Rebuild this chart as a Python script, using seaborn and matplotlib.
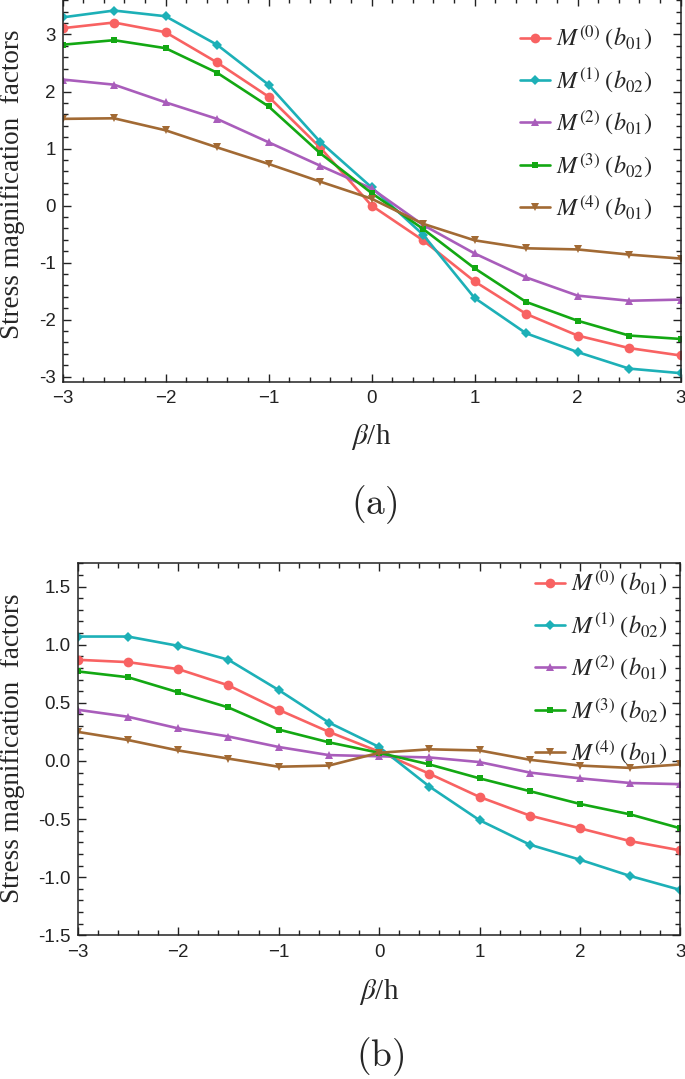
import numpy as np
import pandas as pd
import matplotlib
matplotlib.use("Agg")
import matplotlib.pyplot as plt
import seaborn as sns
from matplotlib.ticker import MultipleLocator, FormatStrFormatter

# ---------------- data ----------------
beta = [-3.0, -2.5, -2.0, -1.5, -1.0, -0.5, 0.0, 0.5, 1.0, 1.5, 2.0, 2.5, 3.0]

# panel (a)
a_M0 = [3.11, 3.21, 3.04, 2.51, 1.91, 1.02, 0.00, -0.61, -1.33, -1.90, -2.28, -2.50, -2.63]
a_M1 = [3.30, 3.42, 3.32, 2.82, 2.12, 1.12, 0.32, -0.51, -1.62, -2.24, -2.57, -2.86, -2.94]
a_M2 = [2.21, 2.12, 1.81, 1.52, 1.11, 0.70, 0.30, -0.34, -0.84, -1.26, -1.58, -1.67, -1.65]
a_M3 = [2.82, 2.90, 2.76, 2.33, 1.74, 0.92, 0.22, -0.41, -1.10, -1.69, -2.02, -2.28, -2.34]
a_M4 = [1.52, 1.53, 1.32, 1.02, 0.73, 0.42, 0.12, -0.32, -0.61, -0.75, -0.77, -0.86, -0.93]

# panel (b)
b_M0 = [0.87, 0.85, 0.79, 0.65, 0.44, 0.25, 0.08, -0.11, -0.31, -0.47, -0.58, -0.69, -0.77]
b_M1 = [1.07, 1.07, 0.99, 0.87, 0.61, 0.33, 0.12, -0.22, -0.51, -0.72, -0.85, -0.99, -1.11]
b_M2 = [0.44, 0.38, 0.28, 0.21, 0.12, 0.05, 0.04, 0.03, -0.01, -0.10, -0.15, -0.19, -0.20]
b_M3 = [0.77, 0.72, 0.59, 0.46, 0.27, 0.16, 0.07, -0.03, -0.15, -0.26, -0.37, -0.46, -0.58]
b_M4 = [0.25, 0.18, 0.09, 0.02, -0.05, -0.04, 0.07, 0.10, 0.09, 0.01, -0.04, -0.06, -0.03]

labels = [r"$M^{(0)}\;(b_{01})$", r"$M^{(1)}\;(b_{02})$", r"$M^{(2)}\;(b_{01})$",
          r"$M^{(3)}\;(b_{02})$", r"$M^{(4)}\;(b_{01})$"]
colors = ["#F86262", "#1DB0B7", "#A95DBB", "#13A813", "#A26A34"]
markers = ["o", "D", "^", "s", "v"]
msizes = [7.0, 4.6, 6.0, 4.6, 6.0]

# ---------------- style ----------------
sns.set_style("ticks")
plt.rcParams["font.family"] = ["Liberation Sans", "DejaVu Sans"]
plt.rcParams["mathtext.fontset"] = "stix"
plt.rcParams["axes.linewidth"] = 1.1
plt.rcParams["axes.edgecolor"] = "#222222"

W, H = 685, 1079
fig = plt.figure(figsize=(W / 100, H / 100), dpi=100)


def px_axes(left, right, top, bottom):
    return fig.add_axes([left / W, 1 - bottom / H, (right - left) / W, (bottom - top) / H])


def draw(ax, series, ylim, ymaj, ymin, yfmt, leg_anchor):
    for vals, lab, c, m, ms in zip(series, labels, colors, markers, msizes):
        df = pd.DataFrame({"beta": beta, "val": vals})
        sns.lineplot(data=df, x="beta", y="val", ax=ax, color=c, marker=m,
                     markersize=ms, markeredgewidth=0, linewidth=1.9, label=lab)
    ax.set_xlim(-3, 3)
    ax.set_ylim(*ylim)
    ax.xaxis.set_major_locator(MultipleLocator(1))
    ax.xaxis.set_minor_locator(MultipleLocator(0.2))
    ax.yaxis.set_major_locator(MultipleLocator(ymaj))
    ax.yaxis.set_minor_locator(MultipleLocator(ymin))
    ax.yaxis.set_major_formatter(FormatStrFormatter(yfmt))
    ax.tick_params(which="both", direction="in", top=True, right=True,
                   labelsize=13.5, colors="#222222", width=1.0)
    ax.tick_params(which="major", length=6, pad=5)
    ax.tick_params(axis="x", which="major", pad=6)
    ax.tick_params(which="minor", length=3.5)
    ax.set_xlabel("")
    ax.set_ylabel("")
    ax.legend(loc="upper left", bbox_to_anchor=leg_anchor, frameon=False,
              fontsize=17.5, handlelength=1.25, handletextpad=0.25,
              labelspacing=0.58, borderpad=0, borderaxespad=0)


ax1 = px_axes(62.5, 680.5, -2, 381.7)
draw(ax1, [a_M0, a_M1, a_M2, a_M3, a_M4], (-3.09, 3.64), 1, 0.2, "%d",
     ((520 - 62.5) / 618, 1 - (24 + 2) / 383.7))

ax2 = px_axes(77.7, 680.5, 563.3, 935.3)
draw(ax2, [b_M0, b_M1, b_M2, b_M3, b_M4], (-1.5, 1.70), 0.5, 0.1, "%.1f",
     ((535 - 77.7) / 602.8, 1 - (569 - 563.3) / 372.0))

serif = ["Liberation Serif", "DejaVu Serif"]
for yc, xc, ylc in [(437, 371.5, 184), (992, 379, 748)]:
    fig.text(xc / W, 1 - yc / H, r"$\beta$/h", family=serif, fontsize=21,
             ha="center", va="center")
    fig.text(12.5 / W, 1 - ylc / H, "Stress magnification  factors", family=serif,
             fontsize=19.5, rotation=90, ha="center", va="center")

fig.text(374 / W, 1 - 505 / H, r"$\mathrm{(a)}$", math_fontfamily="cm",
         fontsize=27, ha="center", va="center")
fig.text(380 / W, 1 - 1057 / H, r"$\mathrm{(b)}$", math_fontfamily="cm",
         fontsize=27, ha="center", va="center")

fig.savefig("out.png", dpi=100)
